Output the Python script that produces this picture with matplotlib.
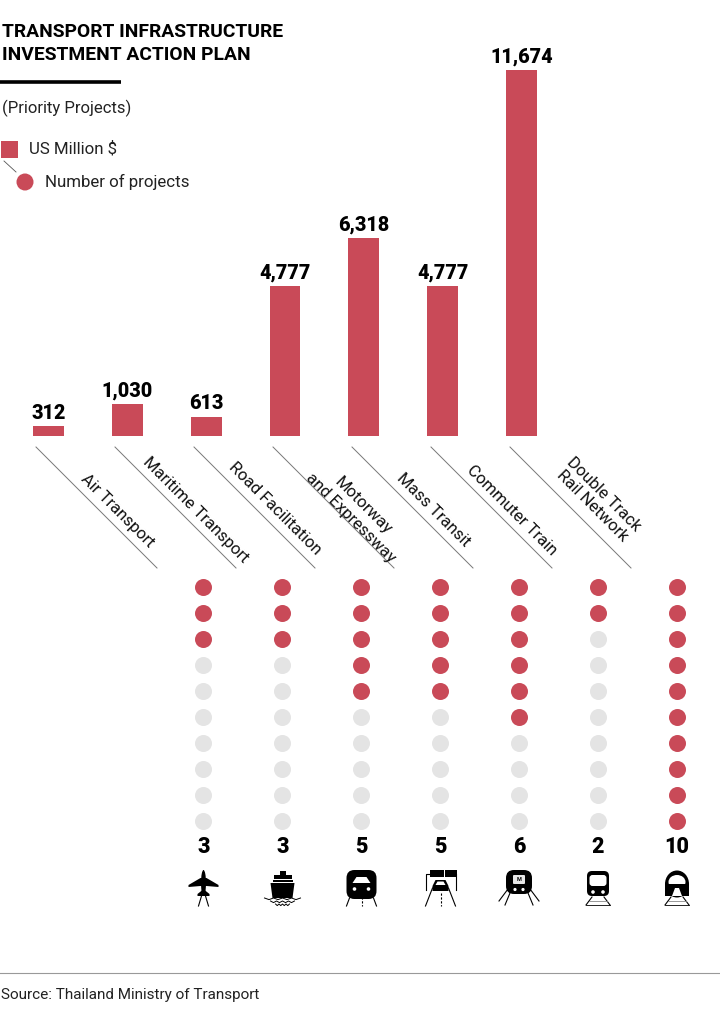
import matplotlib
matplotlib.use("Agg")
import matplotlib.pyplot as plt
from matplotlib.patches import Rectangle, Circle, FancyBboxPatch, Polygon, Ellipse

plt.rcParams['font.family'] = ['Roboto', 'DejaVu Sans']

categories = ["Air Transport", "Maritime Transport", "Road Facilitation",
              "Motorway\nand Expressway", "Mass Transit", "Commuter Train",
              "Double Track\nRail Network"]
values = [312, 1030, 613, 4777, 6318, 4777, 11674]
value_labels = ["312", "1,030", "613", "4,777", "6,318", "4,777", "11,674"]
project_counts = [3, 3, 5, 5, 6, 2, 10]
total_slots = 10

RED = '#c94a58'
GREY = '#e4e4e4'
W, H = 720, 1024

fig = plt.figure(figsize=(7.2, 10.24), dpi=100, facecolor='white')


def px_axes(x0, y0, x1, y1):
    # axes placed by pixel box, y measured from top of image
    a = fig.add_axes([x0 / W, 1 - y1 / H, (x1 - x0) / W, (y1 - y0) / H])
    a.axis('off')
    return a


# overlay in pixel units for text, rules and icons
ax = px_axes(0, 0, W, H)
ax.set_xlim(0, W)
ax.set_ylim(H, 0)

# bars
ax_bar = px_axes(9, 70, 561, 436)
ax_bar.patch.set_alpha(0)
ax_bar.set_xlim(-0.5, 6.5)
ax_bar.set_ylim(0, 11674)
ax_bar.bar(range(len(values)), values, width=31 / 78.9, color=RED)
for i, v in enumerate(values):
    ax_bar.annotate(value_labels[i], (i, v), xytext=(0, 3.5), textcoords='offset pixels',
                    ha='center', va='bottom', fontsize=14.2, fontweight='black',
                    color='black', annotation_clip=False)

# dots
ax_dot = px_axes(164, 574, 716, 834)
ax_dot.patch.set_alpha(0)
ax_dot.set_xlim(-0.5, 6.5)
ax_dot.set_ylim(total_slots - 0.5, -0.5)
for col, n in enumerate(project_counts):
    for row in range(total_slots):
        ax_dot.scatter(col, row, s=150, color=RED if row < n else GREY, linewidths=0, clip_on=False)

# header
ax.text(2, 32, "TRANSPORT INFRASTRUCTURE", fontsize=13.9, fontweight='bold', va='center', ha='left')
ax.text(2, 55, "INVESTMENT ACTION PLAN", fontsize=13.9, fontweight='bold', va='center', ha='left')
ax.plot([0, 121], [81.5, 81.5], color='black', lw=2.6, solid_capstyle='butt')
ax.text(2, 108.5, "(Priority Projects)", fontsize=12, va='center', ha='left', color='#222222')

# legend
ax.add_patch(Rectangle((1, 141), 17, 17, color=RED, lw=0))
ax.plot([4, 16], [161, 172], color='#555555', lw=0.6)
ax.add_patch(Circle((25, 182), 8.5, color=RED, lw=0))
ax.text(29, 149, "US Million $", fontsize=12.2, va='center', ha='left', color='#222222')
ax.text(45, 181.5, "Number of projects", fontsize=12.2, va='center', ha='left', color='#222222')

# diagonal category labels
label_x = [117, 196, 275, 357, 433, 512, 598]
label_y = [511, 510, 509, 512, 510, 510, 500]
for i, name in enumerate(categories):
    x0 = 36 + i * 79
    ax.plot([x0, x0 + 121], [447, 568], color='#777777', lw=0.7)
    ax.text(label_x[i], label_y[i], name, rotation=-45, rotation_mode='anchor',
            ha='center', va='center', fontsize=12, linespacing=1.15, color='#111111')

# project count numbers
col_x = [203.5, 282.5, 361.5, 440.5, 519, 598, 677]
for x, n in zip(col_x, project_counts):
    ax.text(x, 847, str(n), fontsize=15.5, fontweight='black', ha='center', va='center')


def rounded(x, y, w, h, r, c='black'):
    ax.add_patch(FancyBboxPatch((x + r, y + r), w - 2 * r, h - 2 * r,
                                boxstyle=f"round,pad={r}", fc=c, ec='none'))


def legs(cx, x0, x1, y0, y1, lw=0.8):
    ax.plot([cx - x0, cx - x1], [y0, y1], color='black', lw=lw)
    ax.plot([cx + x0, cx + x1], [y0, y1], color='black', lw=lw)


def plane(cx):
    ax.add_patch(Ellipse((cx, 883), 5, 26, color='black', lw=0))
    ax.add_patch(Polygon([(cx - 3, 878), (cx + 3, 878), (cx + 15, 885), (cx + 15, 887),
                          (cx + 3, 886), (cx - 3, 886), (cx - 15, 887), (cx - 15, 885)],
                         fc='black', ec='none'))
    ax.add_patch(Polygon([(cx - 1, 890), (cx + 1, 890), (cx + 6, 894), (cx + 6, 896),
                          (cx - 6, 896), (cx - 6, 894)], fc='black', ec='none'))
    legs(cx, 2, 5, 896, 906)


def ship(cx):
    ax.add_patch(Rectangle((cx - 3, 871), 6, 3.5, color='black', lw=0))
    ax.add_patch(Rectangle((cx - 9, 875), 18, 4, color='black', lw=0))
    ax.add_patch(Rectangle((cx - 10, 880), 20, 2, color='black', lw=0))
    ax.add_patch(Polygon([(cx - 12, 883), (cx + 12, 883), (cx + 10, 898), (cx - 10, 898)],
                         fc='black', ec='none'))
    for y, half in [(898, 18), (901, 12), (904, 7)]:
        xs = [cx - half + k * half / 4 for k in range(9)]
        ys = [y + (k % 2) * 1.6 for k in range(9)]
        ax.plot(xs, ys, color='black', lw=0.7)


def metro(cx):
    rounded(cx - 15, 870, 30, 29, 8)
    ax.add_patch(Polygon([(cx - 5, 877), (cx + 5, 877), (cx + 9, 883), (cx - 9, 883)], fc='white', ec='none'))
    ax.add_patch(Circle((cx - 7, 889), 1.8, color='white', lw=0))
    ax.add_patch(Circle((cx + 7, 889), 1.8, color='white', lw=0))
    legs(cx, 12, 15, 898, 906)
    ax.plot([cx, cx], [893, 906], color='black', lw=0.8, ls=(0, (2, 1.5)))


def motorway(cx):
    ax.add_patch(Rectangle((cx - 11, 870), 14, 7, color='black', lw=0))
    ax.add_patch(Rectangle((cx + 4, 870), 12, 7, color='black', lw=0))
    ax.plot([cx - 15, cx - 15, cx - 11], [890, 874, 874], color='black', lw=0.8)
    ax.plot([cx + 15, cx + 15], [874, 890], color='black', lw=0.8)
    ax.add_patch(Polygon([(cx - 5, 880), (cx + 5, 880), (cx + 8, 886), (cx + 8, 891),
                          (cx - 8, 891), (cx - 8, 886)], fc='black', ec='none'))
    ax.add_patch(Polygon([(cx - 3, 881.5), (cx + 3, 881.5), (cx + 5, 885), (cx - 5, 885)], fc='white', ec='none'))
    legs(cx, 8, 15, 888, 906)
    ax.plot([cx, cx], [893, 906], color='black', lw=0.8, ls=(0, (2, 1.5)))


def mrt(cx):
    rounded(cx - 13, 870, 26, 24, 8)
    rounded(cx - 6, 875, 12, 9, 1, c='#e8e8e8')
    ax.text(cx, 879.5, "M", fontsize=4, fontweight='bold', ha='center', va='center')
    ax.add_patch(Circle((cx - 4, 889.5), 1.6, color='white', lw=0))
    ax.add_patch(Circle((cx + 4, 889.5), 1.6, color='white', lw=0))
    legs(cx, 11, 20, 889, 901)
    legs(cx, 9, 14, 893, 905)


def track_lines(cx):
    legs(cx, 6, 12, 897, 905)
    ax.plot([cx - 12, cx + 12], [905, 905], color='black', lw=0.6)
    ax.plot([cx - 9, cx + 9], [901, 901], color='#888888', lw=0.6)


def commuter(cx):
    rounded(cx - 11, 871, 22, 25, 5)
    rounded(cx - 8.5, 875, 17, 11, 3, c='white')
    ax.add_patch(Circle((cx - 5, 892), 1.8, color='white', lw=0))
    ax.add_patch(Circle((cx + 5, 892), 1.8, color='white', lw=0))
    track_lines(cx)


def highspeed(cx):
    ax.add_patch(Ellipse((cx, 884), 24, 27, color='black', lw=0))
    ax.add_patch(Ellipse((cx, 882), 17, 14, color='white', lw=0))
    ax.add_patch(Polygon([(cx - 12, 884), (cx + 12, 884), (cx + 12, 896), (cx - 12, 896)], fc='black', ec='none'))
    ax.add_patch(Polygon([(cx - 5, 896), (cx + 5, 896), (cx + 2, 888), (cx - 2, 888)], fc='white', ec='none'))
    track_lines(cx)


for x, icon in zip(col_x, [plane, ship, metro, motorway, mrt, commuter, highspeed]):
    icon(x)

# footer
ax.plot([0, W], [972.5, 972.5], color='#999999', lw=0.8)
ax.text(1, 995, "Source: Thailand Ministry of Transport", fontsize=11, va='center', ha='left', color='#222222')

fig.savefig("out.png", dpi=100)
